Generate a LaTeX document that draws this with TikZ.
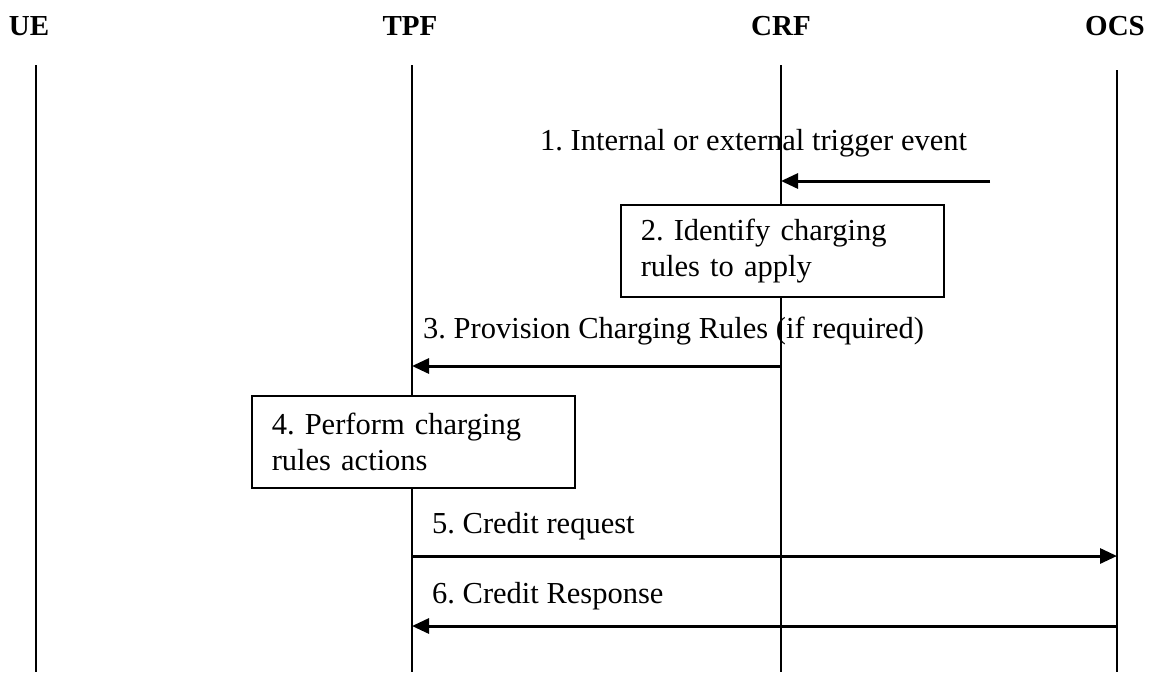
\documentclass[tikz,border=0pt]{standalone}
\usepackage{fontspec}
\setmainfont{Liberation Serif}
\usetikzlibrary{arrows.meta,positioning}
\frenchspacing

\begin{document}
\begin{tikzpicture}[x=1pt,y=-1pt,
		ent/.style={font=\fontsize{29}{35}\selectfont\bfseries, anchor=base, inner sep=0pt},
		msg/.style={font=\fontsize{30.5}{36}\selectfont, anchor=base west, inner sep=0pt},
		act/.style={draw, fill=white, line width=1.5pt, anchor=north west, align=left,
			font=\fontsize{30.5}{36}\selectfont, text width=283pt, inner xsep=20pt,
			minimum width=323pt, minimum height=92pt},
		life/.style={line width=1.5pt},
		arr/.style={line width=3pt, -{Triangle[length=17pt,width=15pt]}}]
	\useasboundingbox (0,0) rectangle (1150,673);
	% entities
	\node [ent] (ue) at (29,35) {UE};
	\node [ent] (tpf) at (410,35) {TPF};
	\node [ent] (crf) at (781,35) {CRF};
	\node [ent] (ocs) at (1115,35) {OCS};
	% lifelines
	\coordinate (ue top) at (36,65);
	\coordinate (ue bot) at (36,672);
	\coordinate (tpf top) at (412,65);
	\coordinate (tpf bot) at (412,672);
	\coordinate (crf top) at (781,65);
	\coordinate (crf bot) at (781,672);
	\coordinate (ocs top) at (1117,70);
	\coordinate (ocs bot) at (1117,672);
	\draw [life] (ue top) -- (ue bot);
	\draw [life] (tpf top) -- (tpf bot);
	\draw [life] (crf top) -- (crf bot);
	\draw [life] (ocs top) -- (ocs bot);
	% 1
	\node [msg] (m1) at (540,150) {1. Internal or external trigger event};
	\coordinate (trig) at (990,181);
	\coordinate (crf1) at (781,181);
	\draw [arr] (trig) -- (crf1);
	% 2
	\node [act] (a2) at (620,204) {2. Identify charging\\rules to apply};
	% 3
	\node [msg] (m3) at (423,338) {3. Provision Charging Rules (if required)};
	\coordinate (crf3) at (781,366);
	\coordinate (tpf3) at (412,366);
	\draw [arr] (crf3) -- (tpf3);
	% 4
	\node [act] (a4) at (251,395) {4. Perform charging\\rules actions};
	% 5
	\node [msg] (m5) at (432,533) {5. Credit request};
	\coordinate (tpf5) at (412,556);
	\coordinate (ocs5) at (1117,556);
	\draw [arr] (tpf5) -- (ocs5);
	% 6
	\node [msg] (m6) at (432,603) {6. Credit Response};
	\coordinate (ocs6) at (1117,626);
	\coordinate (tpf6) at (412,626);
	\draw [arr] (ocs6) -- (tpf6);
\end{tikzpicture}
\end{document}
